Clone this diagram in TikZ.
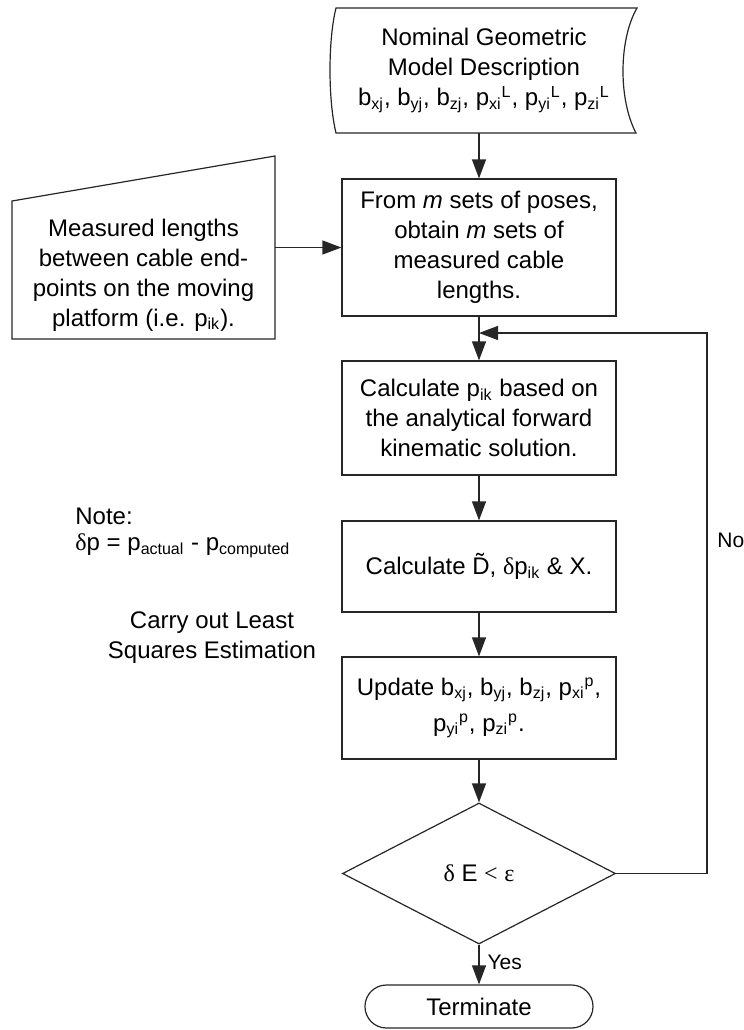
\documentclass[tikz,border=0pt]{standalone}
\usepackage{fontspec}
\setmainfont{Liberation Sans}
\newfontfamily\symf{Liberation Serif}
\usetikzlibrary{arrows.meta,shapes.geometric}
\newcommand\myfs{\fontsize{12}{15}\selectfont}
\newcommand\subx[1]{\textsubscript{#1}}
\newcommand\supx[1]{\textsuperscript{#1}}
\begin{document}
\begin{tikzpicture}[x=0.5pt,y=-0.5pt,
  lin/.style={draw=black!85, line width=0.6pt},
  arr/.style={lin, -{Triangle[length=9.5pt,width=7pt]}},
  box/.style={lin, rectangle, minimum width=137pt, inner sep=0pt, align=center, font=\myfs},
  txt/.style={inner sep=0pt, align=center, font=\myfs},
  lbl/.style={inner sep=0pt, font=\fontsize{10.5}{13}\selectfont}]
\useasboundingbox (0,0) rectangle (744,1030);

% stored data shape
\node[txt, minimum width=150pt, minimum height=62.5pt] (nom) at (484,70.5)
  {Nominal Geometric\\ Model Description\\ b\subx{xj}, b\subx{yj}, b\subx{zj}, p\subx{xi}\supx{L}, p\subx{yi}\supx{L}, p\subx{zi}\supx{L}};
\draw[lin] (336,8) -- (637,8) .. controls (618.5,40) and (618.5,100) .. (636,133)
  -- (336,133) .. controls (328,100) and (328,40) .. (336,8) -- cycle;

% manual input shape
\node[txt, minimum width=131.5pt, minimum height=69pt] (mi) at (143.5,275)
  {Measured lengths\\ between cable end-\\ points on the moving\\ platform (i.e. p\subx{ik}).};
\draw[lin] (12,201) -- (275,156) -- (275,339) -- (12,339) -- cycle;

\node[box, minimum height=68.5pt] (b1) at (479,247.5)
  {From \textit{m} sets of poses,\\ obtain \textit{m} sets of\\ measured cable\\ lengths.};
\node[box, minimum height=57pt] (b2) at (479,418)
  {Calculate p\subx{ik} based on\\ the analytical forward\\ kinematic solution.};
\node[box, minimum height=45.5pt] (b3) at (479,566.5)
  {Calculate \~{D}, {\symf δ}p\subx{ik} \& X.};
\node[box, minimum height=51pt] (b4) at (479,708)
  {Update b\subx{xj}, b\subx{yj}, b\subx{zj}, p\subx{xi}\supx{p},\\[3pt] p\subx{yi}\supx{p}, p\subx{zi}\supx{p}.};
\node[lin, diamond, inner sep=0pt, aspect=1.94, minimum width=136.5pt, minimum height=70.5pt, font=\myfs] (dia) at (479,873.5)
  {{\symf δ} E {\symf <} {\symf ε}};
\node[lin, rectangle, rounded corners=10.7pt, minimum width=114pt, minimum height=21.5pt, inner sep=0pt, font=\myfs] (term) at (479,1006.5)
  {Terminate};

% side notes
\node[txt, anchor=west] (note) at (75,516) {Note:};
\node[txt, anchor=west] (dp) at (75,546) {{\symf δ}p = p\subx{actual} - p\subx{computed}};
\node[txt] (ls) at (212,638) {Carry out Least\\ Squares Estimation};

% connectors
\draw[arr] (nom.south -| b1) -- (b1);
\draw[arr] (mi.east |- b1.west) -- (b1.west);
\draw[arr] (b1) -- (b2);
\draw[arr] (b2) -- (b3);
\draw[arr] (b3) -- (b4);
\draw[arr] (b4) -- (dia);
\draw[arr] (dia) -- (term) node[lbl, pos=0.45, anchor=west, xshift=4pt] (yes) {Yes};
\coordinate (lp) at (479,333);
\coordinate (rc) at (707,333);
\draw[arr] (dia.east) -| (rc) -- (lp);
\node[lbl, anchor=west] (no) at (717,540) {No};
\end{tikzpicture}
\end{document}
